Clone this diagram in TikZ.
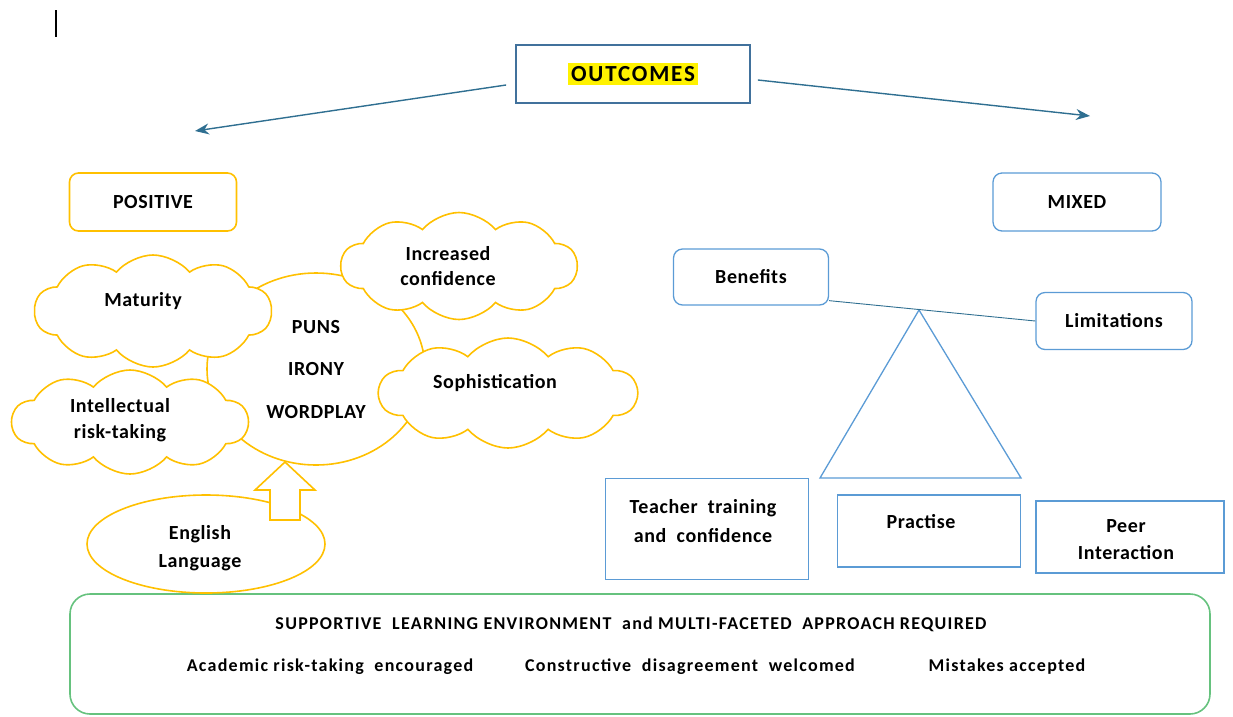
\documentclass[tikz,border=0pt]{standalone}
\usepackage{fontspec}
\setmainfont{Carlito}[LetterSpace=3]
\usetikzlibrary{positioning,calc,arrows.meta,shapes.geometric,shapes.symbols}
\definecolor{outblue}{HTML}{41719C}
\definecolor{arrblue}{HTML}{2F6F91}
\definecolor{mixblue}{HTML}{5B9BD5}
\definecolor{posyellow}{HTML}{FFC000}
\definecolor{envgreen}{HTML}{66C27E}

\begin{document}
\begin{tikzpicture}[x=1pt,y=-1pt,
	txt/.style={font=\fontsize{20}{27}\selectfont\bfseries, align=center},
	small/.style={font=\fontsize{18}{22}\selectfont\bfseries\addfontfeatures{LetterSpace=7}},
	posbox/.style={draw=posyellow, line width=1.6pt, rounded corners=9pt, txt},
	mixbox/.style={draw=mixblue, line width=1.3pt, rounded corners=9pt, txt},
	sqbox/.style={draw=mixblue, line width=1.3pt, txt},
	puff/.style={cloud, cloud puffs=10, cloud puff arc=100, cloud ignores aspect, draw=posyellow, fill=white, line width=1.6pt, inner sep=0pt},
	lbl/.style={txt, font=\fontsize{20}{25.5}\selectfont\bfseries},
	outarrow/.style={draw=arrblue, line width=1.4pt, -{Stealth[length=14pt,width=11pt]}},
	]
	\useasboundingbox (0,0) rectangle (1233,716);
	
	% cursor
	\draw[black, line width=1.2pt] (56,10) -- (56,37);
	
	% top
	\node[draw=outblue, line width=1.8pt, minimum width=234pt, minimum height=58pt] (outcomes) at (633,74)
		{\fontsize{23}{26}\selectfont\bfseries\addfontfeatures{LetterSpace=8}\colorbox{yellow}{OUTCOMES}};
	\coordinate (posend) at (195,131);
	\coordinate (mixend) at (1090,116);
	\draw[outarrow] ($(outcomes.west)+(-9,11)$) -- (posend);
	\draw[outarrow] ($(outcomes.east)+(7,6)$) -- (mixend);
	
	\node[posbox, minimum width=167pt, minimum height=58pt] (positive) at (153,202) {POSITIVE};
	\node[mixbox, minimum width=168pt, minimum height=58pt] (mixed) at (1077,202) {MIXED};
	
	% bottom
	\node[draw=envgreen, line width=1.6pt, rounded corners=20pt, minimum width=1140pt, minimum height=120pt] (env) at (640,654) {};
	\node[small] (envtitle) at (631,624) {SUPPORTIVE\ \ LEARNING ENVIRONMENT\ \ and MULTI-FACETED\ \ APPROACH REQUIRED};
	\node[small] (risk) at (330,667) {Academic risk-taking\ \ encouraged};
	\node[small] (disagree) at (690,667) {Constructive\ \ disagreement\ \ welcomed};
	\node[small] (mistakes) at (1007,667) {Mistakes accepted};
	
	% positive side
	\node[ellipse, draw=posyellow, fill=white, line width=1.6pt, minimum width=238pt, minimum height=98pt,
		label={[lbl, font=\fontsize{20}{28}\selectfont\bfseries, yshift=-4pt, xshift=-6pt]center:English\\Language}] (english) at (206,544) {};
	\node[ellipse, draw=posyellow, line width=1.6pt, minimum width=218pt, minimum height=192pt, txt, font=\fontsize{20}{42.5}\selectfont\bfseries] (core) at (316,369) {PUNS\\IRONY\\WORDPLAY};
	\node[puff, minimum width=237pt, minimum height=112pt, label={[lbl, xshift=-10pt, yshift=10pt]center:Maturity}] (maturity) at (153,311) {};
	\node[puff, minimum width=236pt, minimum height=104pt, label={[lbl, xshift=-10pt, yshift=2pt]center:Intellectual\\risk-taking}] (intellect) at (130,422) {};
	\node[puff, minimum width=236pt, minimum height=107pt, label={[lbl, xshift=-11pt]center:Increased\\confidence}] (confidence) at (459,266) {};
	\node[puff, minimum width=258pt, minimum height=110pt, label={[lbl, xshift=-13pt, yshift=10pt]center:Sophistication}] (sophist) at (508,393) {};
	\draw[draw=posyellow, fill=white, line width=1.6pt] (270,520) -- (270,490) -- (255,490) -- (285,462) -- (315,490) -- (300,490) -- (300,520) -- cycle;
	
	% mixed side
	\node[mixbox, minimum width=155pt, minimum height=56pt] (benefits) at (751,277) {Benefits};
	\node[mixbox, minimum width=156pt, minimum height=57pt] (limits) at (1114,321) {Limitations};
	\draw[mixblue, line width=1.3pt] (919,310) -- (820,478) -- (1021,478) -- cycle;
	\draw[arrblue, line width=0.9pt] ([yshift=5pt]benefits.south east) -- (limits.west);
	
	\node[sqbox, minimum width=203pt, minimum height=101pt, font=\fontsize{20}{29}\selectfont\bfseries,
		label={[txt, font=\fontsize{20}{29}\selectfont\bfseries, yshift=8pt, xshift=-4pt]center:Teacher\ \ training\\and\ \ confidence}] (teacher) at (707,529) {};
	\node[sqbox, minimum width=183pt, minimum height=72pt, label={[txt, yshift=9pt, xshift=-8pt]center:Practise}] (practise) at (929,531) {};
	\node[sqbox, minimum width=188pt, minimum height=72pt, label={[txt, yshift=-3pt, xshift=-4pt]center:Peer\\Interaction}] (peer) at (1130,537) {};
\end{tikzpicture}
\end{document}
